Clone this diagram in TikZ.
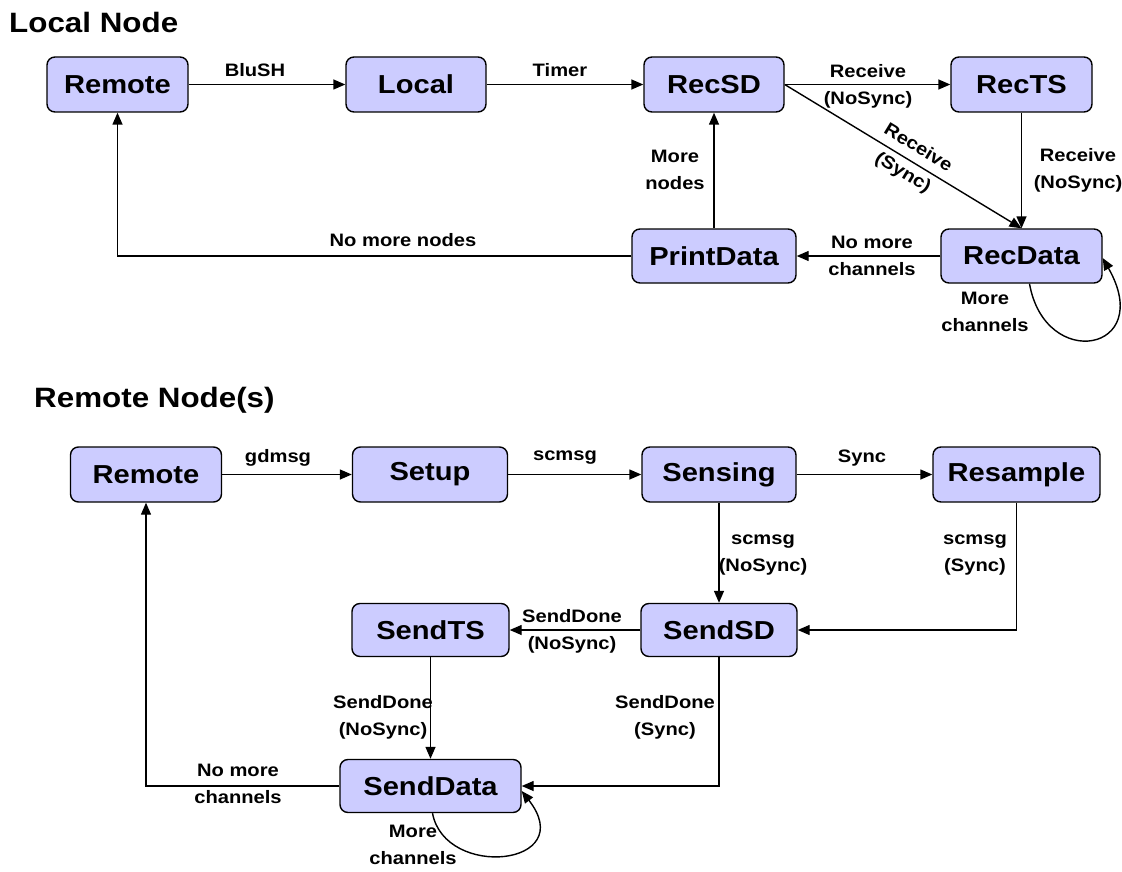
\documentclass[tikz,border=0pt]{standalone}
\usepackage{fontspec}
\setmainfont[FakeStretch=1.12]{Liberation Sans}
\usetikzlibrary{arrows.meta}
\definecolor{boxfill}{HTML}{CCCCFF}
\begin{document}
\begin{tikzpicture}[x=1pt,y=-1pt,
  state/.style={draw=black, fill=boxfill, rounded corners=8pt, line width=1.4pt,
    inner sep=0pt, font=\bfseries\fontsize{26}{28}\selectfont},
  lbl/.style={inner sep=0pt, align=center, font=\bfseries\fontsize{18}{27}\selectfont},
  ttl/.style={inner sep=0pt, anchor=west, font=\bfseries\fontsize{28}{30}\selectfont},
  arr/.style={line width=1.4pt, -{Triangle[length=12pt,width=10pt]}}]
\useasboundingbox (0,0) rectangle (1122,872);

% ---------- Local Node ----------
\node[ttl] (t1) at (9,22) {Local Node};
\node[state, minimum width=141pt, minimum height=55pt] (remA) at (117.5,84.5) {Remote};
\node[state, minimum width=140pt, minimum height=55pt] (local) at (416,84.5) {Local};
\node[state, minimum width=140pt, minimum height=55pt] (recsd) at (714,84.5) {RecSD};
\node[state, minimum width=141pt, minimum height=55pt] (rects) at (1021.5,84.5) {RecTS};
\node[state, minimum width=164pt, minimum height=54pt] (printdata) at (714,256) {PrintData};
\node[state, minimum width=161pt, minimum height=54pt] (recdata) at (1021.5,256) {RecData};

\draw[arr] (remA) -- (local);
\draw[arr] (local) -- (recsd);
\draw[arr] (recsd) -- (rects);
\draw[arr] (recsd.east) -- node[lbl, sloped, pos=0.53, font=\bfseries\fontsize{18}{29}\selectfont] (l4) {Receive\\(Sync)} (recdata.north);
\draw[arr] (rects) -- (recdata);
\draw[arr] (recdata) -- (printdata);
\draw[arr] (printdata) -- (recsd);
\draw[arr] (printdata.west) -| (remA.south);
\draw[arr] ([xshift=8pt]recdata.south) .. controls (1045,372) and (1156,352) .. ([yshift=-2pt]recdata.east);

\node[lbl] (l1) at (255,70) {BluSH};
\node[lbl] (l2) at (560,70) {Timer};
\node[lbl] (l3) at (868,86) {Receive\\(NoSync)};
\node[lbl] (l5) at (1078,170) {Receive\\(NoSync)};
\node[lbl] (l6) at (872,256) {No more\\channels};
\node[lbl] (l7) at (675,170) {More\\nodes};
\node[lbl] (l8) at (403,240) {No more nodes};
\node[lbl] (l9) at (985,312) {More\\channels};

% ---------- Remote Node(s) ----------
\node[ttl] (t2) at (34,400) {Remote Node(s)};
\node[state, minimum width=151pt, minimum height=55pt] (remB) at (146,474.5) {Remote};
\node[state, minimum width=155pt, minimum height=55pt] (setup) at (430,474.5) {Setup};
\node[state, minimum width=154pt, minimum height=55pt] (sensing) at (719,474.5) {Sensing};
\node[state, minimum width=167pt, minimum height=55pt] (resample) at (1016.5,474.5) {Resample};
\node[state, minimum width=157pt, minimum height=53pt] (sendts) at (430.5,630) {SendTS};
\node[state, minimum width=156pt, minimum height=53pt] (sendsd) at (719,630) {SendSD};
\node[state, minimum width=181pt, minimum height=53pt] (senddata) at (430.5,786) {SendData};

\draw[arr] (remB) -- (setup);
\draw[arr] (setup) -- (sensing);
\draw[arr] (sensing) -- (resample);
\draw[arr] (sensing) -- (sendsd);
\draw[arr] (resample.south) |- (sendsd.east);
\draw[arr] (sendsd) -- (sendts);
\draw[arr] (sendts) -- (senddata);
\draw[arr] (sendsd.south) |- (senddata.east);
\draw[arr] (senddata.west) -| (remB.south);
\draw[arr] ([xshift=2pt]senddata.south) .. controls (445,880) and (580,866) .. ([yshift=-5pt]senddata.east);

\node[lbl] (m1) at (278,458) {gdmsg};
\node[lbl] (m2) at (565,458) {scmsg};
\node[lbl] (m3) at (862,458) {Sync};
\node[lbl] (m4) at (763,555) {scmsg\\(NoSync)};
\node[lbl] (m5) at (975,555) {scmsg\\(Sync)};
\node[lbl] (m6) at (572,631) {SendDone\\(NoSync)};
\node[lbl] (m7) at (383,717) {SendDone\\(NoSync)};
\node[lbl] (m8) at (665,717) {SendDone\\(Sync)};
\node[lbl] (m9) at (238,784) {No more\\channels};
\node[lbl] (m10) at (413,845) {More\\channels};
\end{tikzpicture}
\end{document}
